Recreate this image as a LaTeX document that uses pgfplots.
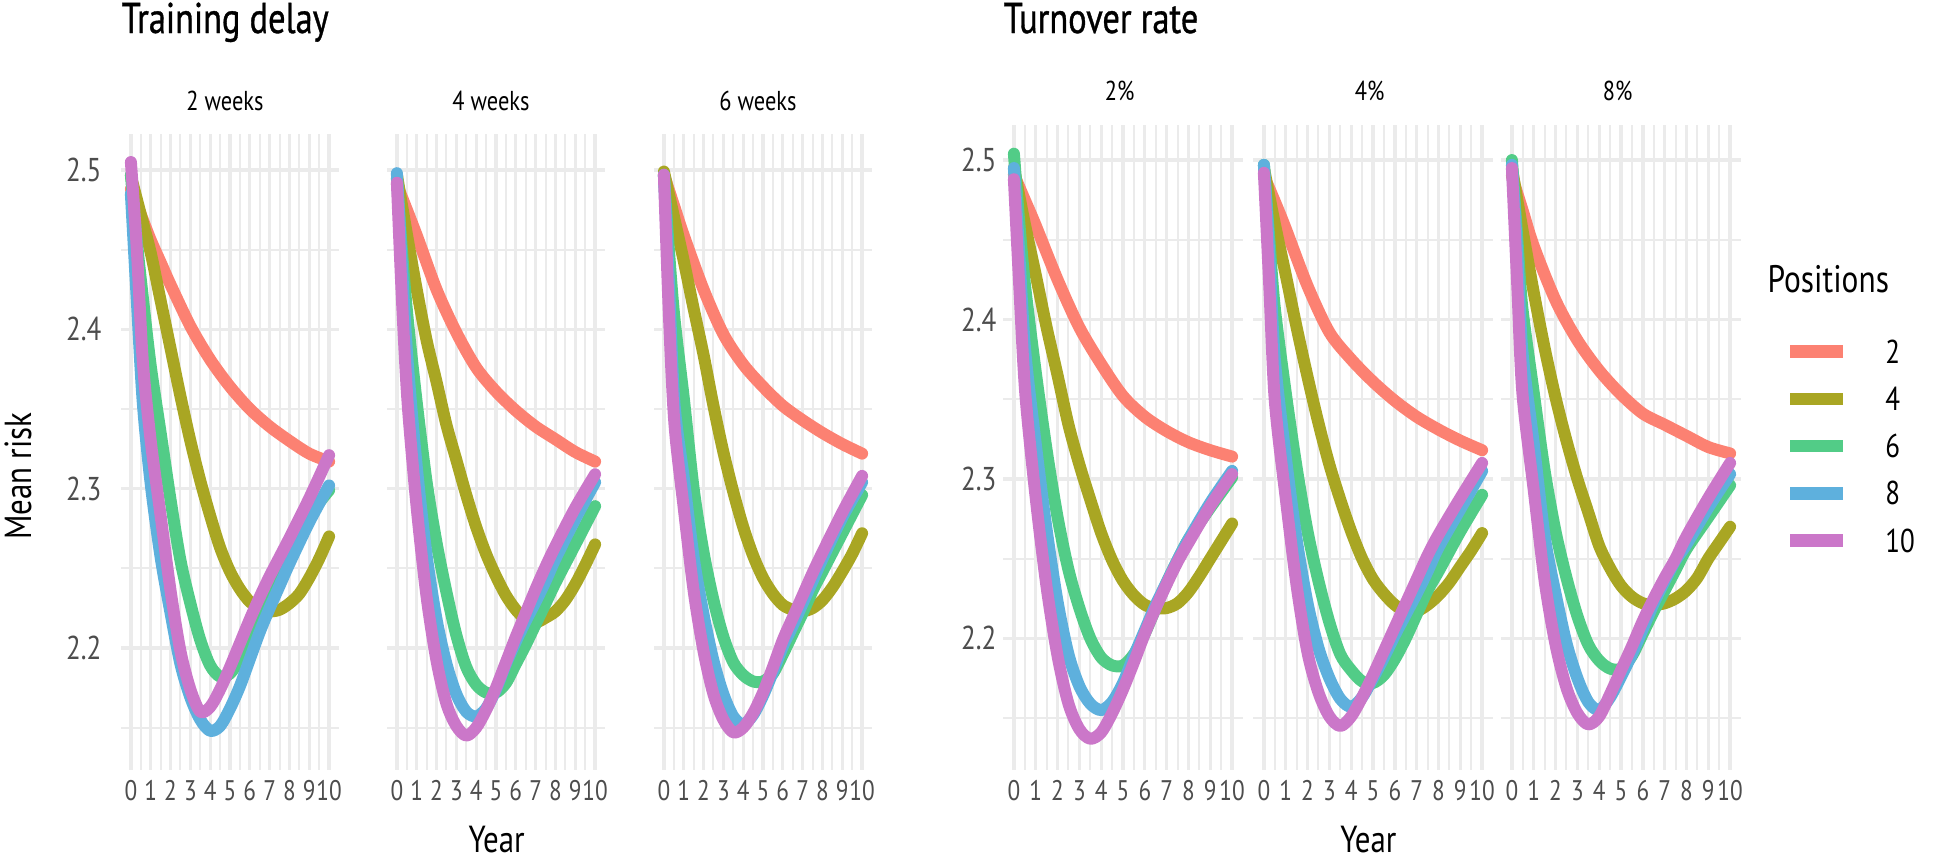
\documentclass[border=0pt]{standalone}
\usepackage{fontspec}
\setmainfont{PT Sans}[FakeStretch=0.82]
\newfontfamily\titlefont{PT Sans}[FakeStretch=0.80, FakeBold=0.8]
\usepackage{pgfplots}
\pgfplotsset{compat=1.18}
\definecolor{c2}{HTML}{FC8172}
\definecolor{c4}{HTML}{A9A623}
\definecolor{c6}{HTML}{52CC87}
\definecolor{c8}{HTML}{5EB0DD}
\definecolor{c10}{HTML}{CB77C9}
\definecolor{gridc}{HTML}{EBEBEB}
\definecolor{tickc}{HTML}{4D4D4D}
\pgfplotsset{
  every axis title/.style={at={(0.5,1)}, anchor=base, inner sep=0pt, font=\fontsize{8.2}{9}\selectfont},
  panel/.style={
    scale only axis,
    xmin=-0.5, xmax=10.5,
    axis line style={draw=none},
    major tick length=0pt, minor tick length=0pt,
    xtick={0,1,2,3,4,5,6,7,8,9,10},
    minor xtick={0.5,1.5,2.5,3.5,4.5,5.5,6.5,7.5,8.5,9.5},
    xticklabels={0,1,2,3,4,5,6,7,8,9,10},
    ytick={2.2,2.3,2.4,2.5}, minor ytick={2.15,2.25,2.35,2.45},
    grid=both,
    major grid style={draw=gridc, line width=1.0pt},
    minor grid style={draw=gridc, line width=0.6pt},
    xticklabel style={font=\fontsize{8.5}{9}\selectfont, text=tickc, anchor=north, inner sep=0pt, yshift=-3pt},
    legend image code/.code={\draw[#1, line width=3.8pt, line cap=butt] (0pt,0pt) -- (15.9pt,0pt);},
  },
  leftp/.style={panel, width=65.4pt, height=190.8pt, ymin=2.1234, ymax=2.5226,
    title style={yshift=7.2pt, xshift=-1.5pt},
    yticklabel style={font=\fontsize{9.9}{11}\selectfont, text=tickc, anchor=east, inner sep=0pt, xshift=-5.7pt}},
  rightp/.style={panel, width=72pt, height=193.5pt, ymin=2.1174, ymax=2.522,
    title style={yshift=7.5pt, xshift=-1pt},
    yticklabel style={font=\fontsize{9.9}{11}\selectfont, text=tickc, anchor=east, inner sep=0pt, xshift=-1.8pt}},
  noy/.style={yticklabels={}},
  withy/.style={yticklabels={2.2,2.3,2.4,2.5}},
  s2/.style={color=c2, line width=3.6pt, smooth, line cap=round, line join=round},
  s4/.style={color=c4, line width=3.6pt, smooth, line cap=round, line join=round},
  s6/.style={color=c6, line width=3.6pt, smooth, line cap=round, line join=round},
  s8/.style={color=c8, line width=3.6pt, smooth, line cap=round, line join=round},
  s10/.style={color=c10, line width=3.6pt, smooth, line cap=round, line join=round},
}
\begin{document}
\begin{tikzpicture}
\useasboundingbox (0,0) rectangle (583.8pt,-258pt);

% ---------- Training delay: 2 weeks
\begin{axis}[leftp, withy, at={(36.3pt,-40.2pt)}, anchor=north west, title={2 weeks}]
\addplot[s2] coordinates {(0,2.488)(0.5,2.472)(1,2.456)(1.5,2.442)(2,2.428)(3,2.402)(4,2.381)(5,2.364)(6,2.350)(7,2.339)(8,2.330)(9,2.322)(10,2.317)};
\addplot[s4] coordinates {(0,2.496)(0.5,2.472)(1,2.448)(1.5,2.418)(2,2.388)(2.5,2.358)(3,2.330)(3.5,2.305)(4,2.283)(4.5,2.263)(5,2.248)(5.5,2.237)(6,2.229)(6.5,2.225)(7,2.223)(7.5,2.224)(8,2.228)(8.5,2.234)(9,2.244)(9.5,2.256)(10,2.270)};
\addplot[s6] coordinates {(0,2.497)(0.3,2.455)(0.6,2.42)(1,2.377)(1.5,2.335)(2,2.293)(2.5,2.255)(3,2.228)(3.5,2.205)(4,2.189)(4.5,2.182)(5,2.184)(5.5,2.193)(6,2.206)(6.5,2.222)(7,2.236)(7.5,2.249)(8,2.262)(9,2.283)(10,2.299)};
\addplot[s8] coordinates {(0,2.485)(0.3,2.418)(0.6,2.354)(1,2.303)(1.5,2.257)(2,2.222)(2.5,2.19)(3,2.169)(3.5,2.155)(4,2.148)(4.5,2.151)(5,2.162)(5.5,2.176)(6,2.193)(6.5,2.21)(7,2.225)(7.5,2.239)(8,2.253)(9,2.279)(10,2.302)};
\addplot[s10] coordinates {(0,2.505)(0.3,2.45)(0.6,2.38)(1,2.33)(1.5,2.283)(2,2.236)(2.5,2.198)(3,2.174)(3.5,2.160)(4,2.163)(4.5,2.174)(5,2.188)(5.5,2.203)(6,2.218)(6.5,2.232)(7,2.245)(7.5,2.257)(8,2.269)(9,2.294)(10,2.321)};
\end{axis}

% ---------- 4 weeks
\begin{axis}[leftp, noy, at={(116.1pt,-40.2pt)}, anchor=north west, title={4 weeks}]
\addplot[s2] coordinates {(0,2.491)(1,2.459)(2,2.425)(3,2.398)(4,2.376)(5,2.361)(6,2.349)(7,2.339)(8,2.331)(9,2.323)(10,2.317)};
\addplot[s4] coordinates {(0,2.497)(0.5,2.46)(1,2.425)(1.5,2.393)(2,2.367)(2.5,2.34)(3,2.318)(3.5,2.296)(4,2.276)(4.5,2.259)(5,2.245)(5.5,2.233)(6,2.224)(6.5,2.218)(7,2.216)(7.5,2.219)(8,2.223)(8.5,2.230)(9,2.240)(9.5,2.252)(10,2.265)};
\addplot[s6] coordinates {(0,2.495)(0.25,2.45)(0.54,2.407)(1,2.354)(1.5,2.304)(2,2.266)(2.5,2.235)(3,2.208)(3.5,2.188)(4,2.177)(4.5,2.172)(5,2.172)(5.5,2.178)(6,2.19)(6.5,2.202)(7,2.215)(7.5,2.228)(8,2.241)(9,2.265)(10,2.289)};
\addplot[s8] coordinates {(0,2.498)(0.25,2.44)(0.54,2.38)(1,2.314)(1.5,2.258)(2,2.218)(2.5,2.19)(3,2.171)(3.5,2.16)(4,2.157)(4.5,2.162)(5,2.174)(5.5,2.19)(6,2.204)(6.5,2.217)(7,2.229)(7.5,2.242)(8,2.256)(9,2.281)(10,2.304)};
\addplot[s10] coordinates {(0,2.492)(0.25,2.42)(0.54,2.354)(1,2.288)(1.5,2.232)(2,2.192)(2.5,2.165)(3,2.151)(3.5,2.145)(4,2.150)(4.5,2.161)(5,2.175)(5.5,2.191)(6,2.207)(6.5,2.222)(7,2.237)(7.5,2.251)(8,2.264)(9,2.288)(10,2.309)};
\end{axis}

% ---------- 6 weeks
\begin{axis}[leftp, noy, at={(196.2pt,-40.2pt)}, anchor=north west, title={6 weeks}]
\addplot[s2] coordinates {(0,2.497)(0.5,2.478)(1,2.459)(2,2.425)(3,2.397)(4,2.378)(5,2.364)(6,2.352)(7,2.343)(8,2.335)(9,2.328)(10,2.322)};
\addplot[s4] coordinates {(0,2.499)(0.5,2.471)(1,2.443)(1.5,2.413)(2,2.384)(2.5,2.352)(3,2.323)(3.5,2.298)(4,2.276)(4.5,2.258)(5,2.244)(5.5,2.234)(6,2.227)(6.5,2.224)(7,2.223)(7.5,2.225)(8,2.23)(8.5,2.238)(9,2.248)(9.5,2.259)(10,2.272)};
\addplot[s6] coordinates {(0,2.497)(0.25,2.45)(0.53,2.407)(1,2.357)(1.5,2.30)(2,2.26)(2.5,2.23)(3,2.207)(3.5,2.191)(4,2.183)(4.5,2.179)(5,2.179)(5.5,2.184)(6,2.196)(6.5,2.209)(7,2.222)(7.5,2.236)(8,2.248)(9,2.272)(10,2.296)};
\addplot[s8] coordinates {(0,2.497)(0.25,2.43)(0.53,2.354)(1,2.307)(1.5,2.257)(2,2.221)(2.5,2.192)(3,2.171)(3.5,2.157)(4,2.152)(4.5,2.158)(5,2.17)(5.5,2.185)(6,2.201)(6.5,2.214)(7,2.228)(7.5,2.242)(8,2.256)(9,2.282)(10,2.304)};
\addplot[s10] coordinates {(0,2.497)(0.25,2.41)(0.53,2.341)(1,2.288)(1.5,2.236)(2,2.198)(2.5,2.171)(3,2.155)(3.5,2.147)(4,2.150)(4.5,2.159)(5,2.172)(5.5,2.188)(6,2.205)(6.5,2.219)(7,2.233)(7.5,2.247)(8,2.26)(9,2.285)(10,2.308)};
\end{axis}

% ---------- Turnover rate: 2%
\begin{axis}[rightp, withy, at={(300.9pt,-37.5pt)}, anchor=north west, title={2\%}]
\addplot[s2] coordinates {(0,2.491)(0.5,2.475)(1,2.459)(2,2.425)(3,2.395)(4,2.372)(5,2.352)(6,2.339)(7,2.330)(8,2.323)(9,2.318)(10,2.314)};
\addplot[s4] coordinates {(0,2.495)(0.5,2.46)(1,2.428)(1.5,2.395)(2,2.365)(2.5,2.334)(3,2.309)(3.5,2.287)(4,2.266)(4.5,2.249)(5,2.236)(5.5,2.227)(6,2.221)(6.5,2.219)(7,2.219)(7.5,2.222)(8,2.229)(8.5,2.239)(9,2.25)(9.5,2.261)(10,2.272)};
\addplot[s6] coordinates {(0,2.504)(0.25,2.46)(0.52,2.42)(1,2.367)(1.5,2.318)(2,2.276)(2.5,2.243)(3,2.219)(3.5,2.2)(4,2.188)(4.5,2.183)(5,2.183)(5.5,2.19)(6,2.203)(6.5,2.219)(7,2.235)(7.5,2.249)(8,2.262)(9,2.282)(10,2.301)};
\addplot[s8] coordinates {(0,2.495)(0.25,2.44)(0.52,2.38)(1,2.322)(1.5,2.268)(2,2.223)(2.5,2.19)(3,2.17)(3.5,2.159)(4,2.155)(4.5,2.16)(5,2.172)(5.5,2.189)(6,2.205)(6.5,2.221)(7,2.235)(7.5,2.249)(8,2.262)(9,2.285)(10,2.305)};
\addplot[s10] coordinates {(0,2.488)(0.25,2.42)(0.52,2.354)(1,2.288)(1.5,2.232)(2,2.189)(2.5,2.159)(3,2.143)(3.5,2.137)(4,2.141)(4.5,2.153)(5,2.168)(5.5,2.185)(6,2.203)(6.5,2.219)(7,2.234)(7.5,2.248)(8,2.26)(9,2.283)(10,2.303)};
\end{axis}

% ---------- 4%
\begin{axis}[rightp, noy, at={(375.9pt,-37.5pt)}, anchor=north west, title={4\%}]
\addplot[s2] coordinates {(0,2.49)(0.5,2.474)(1,2.457)(2,2.421)(3,2.392)(4,2.375)(5,2.361)(6,2.349)(7,2.339)(8,2.331)(9,2.324)(10,2.318)};
\addplot[s4] coordinates {(0,2.495)(0.5,2.46)(1,2.428)(1.5,2.395)(2,2.364)(2.5,2.335)(3,2.309)(3.5,2.287)(4,2.267)(4.5,2.25)(5,2.237)(5.5,2.228)(6,2.221)(6.5,2.217)(7,2.217)(7.5,2.221)(8,2.227)(8.5,2.235)(9,2.245)(9.5,2.255)(10,2.266)};
\addplot[s6] coordinates {(0,2.497)(0.25,2.45)(0.5,2.407)(1,2.354)(1.5,2.307)(2,2.267)(2.5,2.236)(3,2.21)(3.5,2.19)(4,2.18)(4.5,2.173)(5,2.172)(5.5,2.177)(6,2.187)(6.5,2.2)(7,2.215)(7.5,2.23)(8,2.242)(9,2.267)(10,2.29)};
\addplot[s8] coordinates {(0,2.497)(0.25,2.44)(0.5,2.375)(1,2.314)(1.5,2.262)(2,2.222)(2.5,2.194)(3,2.175)(3.5,2.162)(4,2.157)(4.5,2.163)(5,2.175)(5.5,2.188)(6,2.202)(6.5,2.215)(7,2.228)(7.5,2.242)(8,2.257)(9,2.281)(10,2.305)};
\addplot[s10] coordinates {(0,2.492)(0.25,2.42)(0.5,2.349)(1,2.288)(1.5,2.233)(2,2.191)(2.5,2.166)(3,2.151)(3.5,2.145)(4,2.151)(4.5,2.163)(5,2.177)(5.5,2.192)(6,2.207)(6.5,2.222)(7,2.237)(7.5,2.252)(8,2.265)(9,2.288)(10,2.31)};
\end{axis}

% ---------- 8%
\begin{axis}[rightp, noy, at={(450.3pt,-37.5pt)}, anchor=north west, title={8\%},
  legend style={at={(1.175,0.6674)}, anchor=north west, draw=none, fill=none, inner sep=0pt,
    row sep=7.26pt, column sep=10.8pt,
    nodes={inner sep=0pt, font=\fontsize{9.9}{11}\selectfont, text height=6.9pt, text depth=0pt}},
  legend cell align=left]
\addplot[s2] coordinates {(0,2.49)(0.5,2.468)(1,2.446)(2,2.412)(3,2.387)(4,2.368)(5,2.353)(6,2.341)(7,2.334)(8,2.327)(9,2.32)(10,2.316)};
\addplot[s4] coordinates {(0,2.495)(0.5,2.455)(1,2.417)(1.5,2.382)(2,2.351)(2.5,2.324)(3,2.3)(3.5,2.279)(4,2.258)(4.5,2.244)(5,2.233)(5.5,2.226)(6,2.222)(6.5,2.221)(7,2.222)(7.5,2.225)(8,2.23)(8.5,2.238)(9,2.25)(9.5,2.26)(10,2.27)};
\addplot[s6] coordinates {(0,2.5)(0.25,2.45)(0.48,2.407)(1,2.354)(1.5,2.305)(2,2.267)(2.5,2.238)(3,2.214)(3.5,2.196)(4,2.186)(4.5,2.181)(5,2.181)(5.5,2.189)(6,2.203)(6.5,2.217)(7,2.23)(7.5,2.243)(8,2.256)(9,2.276)(10,2.296)};
\addplot[s8] coordinates {(0,2.497)(0.25,2.44)(0.48,2.38)(1,2.322)(1.5,2.264)(2,2.228)(2.5,2.197)(3,2.175)(3.5,2.16)(4,2.155)(4.5,2.163)(5,2.176)(5.5,2.19)(6,2.206)(6.5,2.222)(7,2.236)(7.5,2.249)(8,2.259)(9,2.282)(10,2.303)};
\addplot[s10] coordinates {(0,2.495)(0.25,2.42)(0.48,2.354)(1,2.293)(1.5,2.236)(2,2.196)(2.5,2.169)(3,2.153)(3.5,2.146)(4,2.151)(4.5,2.165)(5,2.18)(5.5,2.195)(6,2.211)(6.5,2.225)(7,2.238)(7.5,2.25)(8,2.264)(9,2.288)(10,2.31)};
\legend{2,4,6,8,10}
\end{axis}

% ---------- titles and axis titles
\node[anchor=base west, inner sep=0pt, font=\titlefont\fontsize{12.9}{14}\selectfont] at (36.3pt,-9.9pt) {Training delay};
\node[anchor=base west, inner sep=0pt, font=\titlefont\fontsize{12.9}{14}\selectfont] at (300.9pt,-9.9pt) {Turnover rate};
\node[anchor=base, inner sep=0pt, font=\fontsize{11.3}{13}\selectfont] at (149pt,-255.6pt) {Year};
\node[anchor=base, inner sep=0pt, font=\fontsize{11.3}{13}\selectfont] at (410.5pt,-255.6pt) {Year};
\node[rotate=90, anchor=center, inner sep=0pt, font=\fontsize{11.3}{13}\selectfont] at (5.4pt,-142.8pt) {Mean risk};
\node[anchor=base west, inner sep=0pt, font=\fontsize{11.5}{13}\selectfont] at (530.1pt,-87.6pt) {Positions};
\end{tikzpicture}
\end{document}
